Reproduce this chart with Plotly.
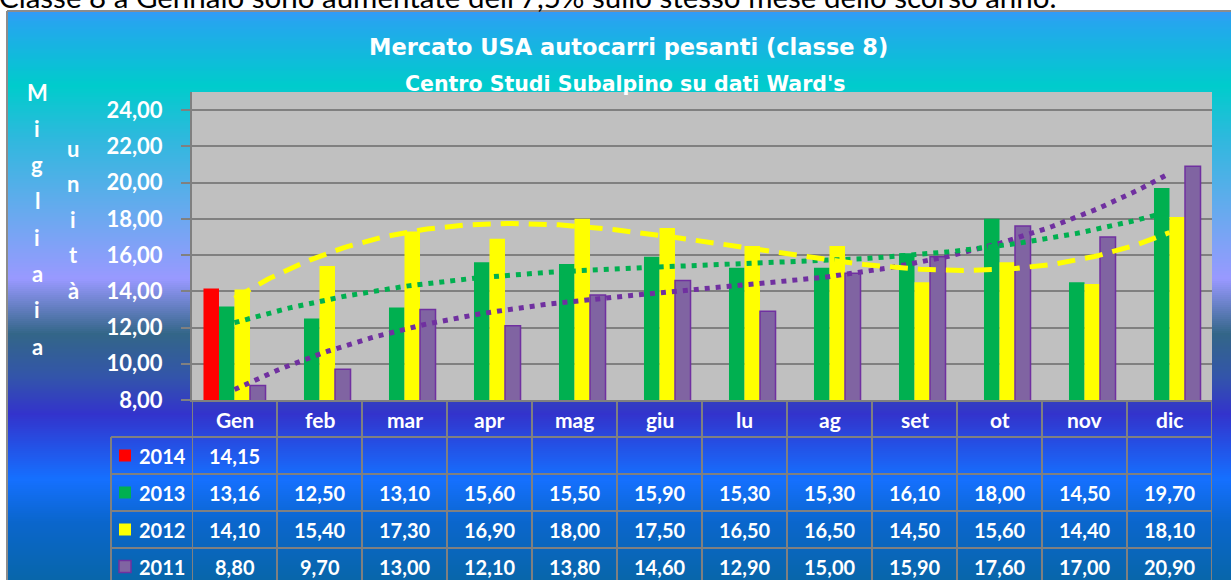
import numpy as np
import plotly.graph_objects as go

# ---------------- data ----------------
months = ["Gen", "feb", "mar", "apr", "mag", "giu", "lu", "ag", "set", "ot", "nov", "dic"]
years = ["2014", "2013", "2012", "2011"]
v2014 = [14.15, None, None, None, None, None, None, None, None, None, None, None]
v2013 = [13.16, 12.50, 13.10, 15.60, 15.50, 15.90, 15.30, 15.30, 16.10, 18.00, 14.50, 19.70]
v2012 = [14.10, 15.40, 17.30, 16.90, 18.00, 17.50, 16.50, 16.50, 14.50, 15.60, 14.40, 18.10]
v2011 = [8.80, 9.70, 13.00, 12.10, 13.80, 14.60, 12.90, 15.00, 15.90, 17.60, 17.00, 20.90]

title = "Mercato USA autocarri pesanti (classe 8)"
subtitle = "Centro Studi Subalpino su dati Ward's"
top_text = "Classe 8 a Gennaio sono aumentate dell'7,5% sullo stesso mese dello scorso anno."
ylabel1 = "Migliaia"
ylabel2 = "unità"

# ---------------- styles ----------------
series = [v2014, v2013, v2012, v2011]
fill_colors = ["#FF0000", "#00B050", "#FFFF00", "#8064A2"]
edge_colors = ["#FF0000", "#00B050", "#FFFF00", "#7030A0"]
edge_widths = [0, 0, 0, 1.5]
trend_specs = {  # series index -> (color, dash, width)
    2: ("#FFFF00", "18px,10px", 5),
    1: ("#00B050", "5px,6px", 5),
    3: ("#7030A0", "5px,6px", 5),
}
FONT = "Lato"
TITLE_FONT = "DejaVu Sans"
GRID = "#808080"

W, H = 1231, 580
L, R, T, B = 192, 1212, 92, 400


def fx(p):
    return (p - L) / (R - L)


def fy(p):
    return (B - p) / (B - T)


def txt(x, y, text, size, xref="paper", color="white", bold=True, family=FONT, xanchor="center"):
    return dict(x=x, y=y, xref=xref, yref="paper", text=text, showarrow=False,
                xanchor=xanchor, yanchor="middle",
                font=dict(family=family, size=size, color=color,
                          weight="bold" if bold else "normal"))


fig = go.Figure()
xi = list(range(len(months)))

for name, vals, fc, ec, ew in zip(years, series, fill_colors, edge_colors, edge_widths):
    fig.add_trace(go.Bar(
        x=xi, y=vals, name=name,
        marker=dict(color=fc, line=dict(color=ec, width=ew)),
        hoverinfo="x+y",
    ))

# polynomial (order 3) trend lines computed from the data, as in the original chart
xs = np.linspace(0, len(months) - 1, 200)
for idx in [3, 1, 2]:
    color, dash, width = trend_specs[idx]
    coefs = np.polyfit(np.array(xi, dtype=float), np.array(series[idx], dtype=float), 3)
    fig.add_trace(go.Scatter(
        x=xs, y=np.polyval(coefs, xs), mode="lines",
        line=dict(color=color, dash=dash, width=width),
        hoverinfo="skip",
    ))

shapes = []

# background gradient of the chart panel
stops = [
    (11, "#3399F8"), (22, "#25A6EE"), (86, "#00CCCC"), (140, "#30B8DE"),
    (210, "#66AAEE"), (279, "#9999FF"), (334, "#336688"), (377, "#3355AA"),
    (414, "#3333CC"), (479, "#1570FF"), (523, "#0A66CC"), (580, "#0866AA"),
]


def hex2rgb(h):
    return tuple(int(h[i:i + 2], 16) for i in (1, 3, 5))


def color_at(y):
    for (y0, c0), (y1, c1) in zip(stops[:-1], stops[1:]):
        if y0 <= y <= y1:
            t = (y - y0) / (y1 - y0) if y1 > y0 else 0
            a, b = hex2rgb(c0), hex2rgb(c1)
            return "rgb(%d,%d,%d)" % tuple(round(a[k] + (b[k] - a[k]) * t) for k in range(3))
    return stops[-1][1]


step = 2
for y in range(11, 580, step):
    shapes.append(dict(type="rect", xref="paper", yref="paper", layer="below",
                       x0=fx(7), x1=fx(1235), y0=fy(y + step + 0.5), y1=fy(y),
                       fillcolor=color_at(y + step / 2), line=dict(width=0)))

# plot area background
shapes.append(dict(type="rect", xref="paper", yref="paper", layer="below",
                   x0=0, x1=1, y0=0, y1=1, fillcolor="#C0C0C0", line=dict(width=0)))

# panel border
shapes.append(dict(type="line", xref="paper", yref="paper", x0=fx(7), x1=fx(7),
                   y0=fy(11), y1=fy(585), line=dict(color="#8C8C8C", width=2)))
shapes.append(dict(type="line", xref="paper", yref="paper", x0=fx(7), x1=fx(1235),
                   y0=fy(11), y1=fy(11), line=dict(color="#8C8C8C", width=2)))

# data table grid
row_top = [437, 474, 511, 548]
row_h = 37
tab_left = 111
for ry in row_top:
    shapes.append(dict(type="line", xref="paper", yref="paper", x0=fx(tab_left), x1=1,
                       y0=fy(ry), y1=fy(ry), line=dict(color=GRID, width=2)))
shapes.append(dict(type="line", xref="paper", yref="paper", x0=fx(tab_left), x1=fx(tab_left),
                   y0=fy(row_top[0]), y1=fy(590), line=dict(color=GRID, width=2)))
for k in range(len(months) + 1):
    shapes.append(dict(type="line", xref="x", yref="paper", x0=k - 0.5, x1=k - 0.5,
                       y0=fy(B), y1=fy(590), line=dict(color=GRID, width=2)))

annotations = []
# header row (categories)
for k, m in enumerate(months):
    annotations.append(txt(k, fy(419), m, 21, xref="x"))

# table rows
for r, (name, vals) in enumerate(zip(years, series)):
    cy = row_top[r] + row_h / 2
    shapes.append(dict(type="rect", xref="paper", yref="paper",
                       x0=fx(119), x1=fx(131), y0=fy(cy + 6), y1=fy(cy - 6),
                       fillcolor=fill_colors[r],
                       line=dict(color=edge_colors[r], width=1.5 if r == 3 else 0)))
    annotations.append(txt(fx(137), fy(cy), name, 20, xanchor="left"))
    for k, v in enumerate(vals):
        if v is None:
            continue
        annotations.append(txt(k, fy(cy), f"{v:.2f}".replace(".", ","), 20, xref="x"))

# titles
annotations.append(txt(fx(628), fy(47), title, 22.5, family=TITLE_FONT))
annotations.append(txt(fx(625), fy(84), subtitle, 20.5, family=TITLE_FONT))

# vertical axis title letters
for i, ch in enumerate(ylabel1):
    annotations.append(txt(fx(37), fy(92 + i * 36.3), ch, 22))
for i, ch in enumerate(ylabel2):
    annotations.append(txt(fx(73), fy(148 + i * 35.6), ch, 22))

# text line above the chart (cut at the top, as in the source)
annotations.append(txt(fx(-3), fy(-3), top_text, 29.5, color="black", bold=False, xanchor="left"))

fig.update_layout(
    width=W, height=H,
    margin=dict(l=L, r=W - R, t=T, b=H - B),
    paper_bgcolor="white", plot_bgcolor="rgba(0,0,0,0)",
    barmode="group", bargap=0.27, bargroupgap=0,
    showlegend=False, separators=",.",
    shapes=shapes, annotations=annotations,
    font=dict(family=FONT, color="white"),
)
fig.update_xaxes(range=[-0.5, len(months) - 0.5], showticklabels=False, showgrid=False,
                 zeroline=False, showline=True, linecolor=GRID, linewidth=2, ticks="")
fig.update_yaxes(range=[8, 25], tick0=8, dtick=2, tickformat=".2f",
                 showgrid=True, gridcolor=GRID, gridwidth=2, zeroline=False,
                 showline=True, linecolor=GRID, linewidth=2,
                 ticks="outside", ticklen=9, tickwidth=2, tickcolor=GRID,
                 tickfont=dict(family=FONT, size=22, color="white", weight="bold"),
                 ticklabelstandoff=14)

fig.write_html("out.html", config={"displayModeBar": False},
               post_script="document.body.style.margin='0';document.body.style.overflow='hidden';")
